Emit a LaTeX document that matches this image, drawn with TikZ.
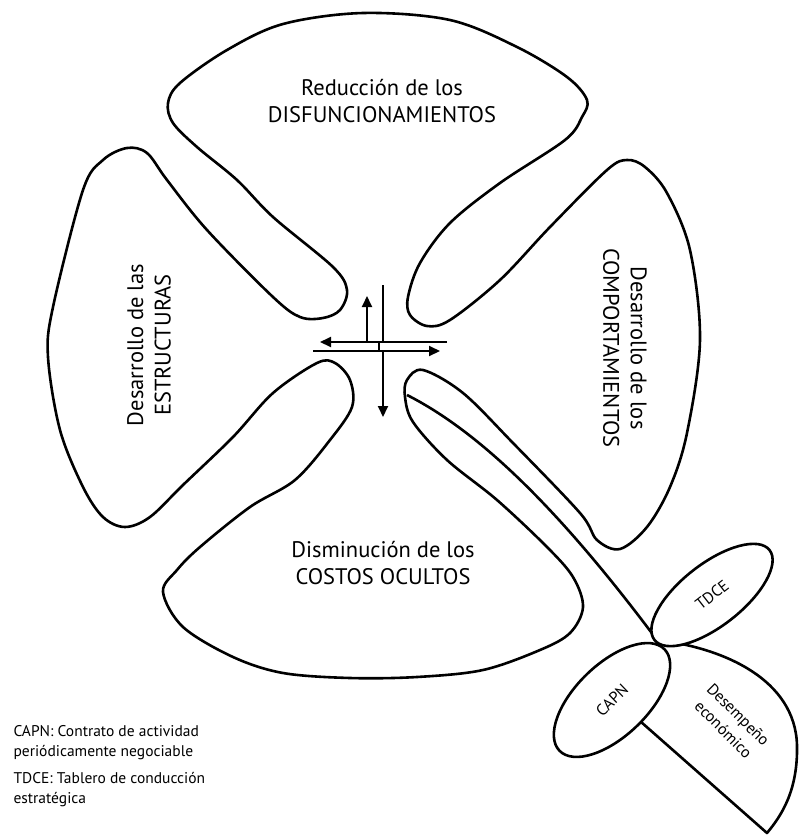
\documentclass[tikz,border=0pt]{standalone}
\usepackage{fontspec}
\setmainfont{PT Sans}
\usetikzlibrary{arrows.meta,shapes.geometric}
\begin{document}
\begin{tikzpicture}[x=1pt,y=-1pt,
  outline/.style={line width=2.6pt,line join=round},
  arr/.style={line width=2pt,-{Triangle[length=11pt,width=10pt]}},
  bar/.style={line width=2pt},
  maintext/.style={align=center,font=\fontsize{22.5}{27.5}\selectfont},
  legend/.style={anchor=west,align=left,font=\fontsize{15.5}{20}\selectfont},
  leafell/.style={ellipse,draw,line width=2.6pt,fill=white,inner sep=0pt,font=\fontsize{16}{20}\selectfont},
  small/.style={font=\fontsize{16}{21}\selectfont,align=center}]
\useasboundingbox (0,0) rectangle (801,836);

% main four-lobed outline
\draw[outline] plot[smooth cycle,tension=0.55] coordinates {
 (168,103) (180,83) (227,50) (283,24) (363,13) (450,20) (517,47) (567,77) (587,100) (582,117)
 (565,140) (500,183) (450,223) (420,263) (408,297) (410,315) (427,326) (450,320) (500,280) (550,227) (607,170)
 (627,160) (645,167) (667,193) (690,250) (700,340) (687,433) (670,487) (647,527) (620,549)
 (597,540) (580,513) (513,443) (463,393) (423,370) (407,380) (405,397) (413,422) (447,460) (497,500) (547,547) (573,577)
 (583,607) (570,633) (540,650) (483,670) (417,677) (350,678) (283,673) (233,657) (183,627) (163,592)
 (177,570) (200,547) (250,507) (295,480) (330,440) (352,407) (350,380) (335,363) (317,363) (273,393) (233,437) (183,485) (150,517)
 (125,527) (103,517) (83,487) (60,430) (48,357) (53,307) (83,190) (103,160) (127,148)
 (147,153) (167,180) (207,230) (273,297) (300,317) (323,318) (340,310) (347,290) (333,267) (273,217) (237,180) (197,147) (173,123)
};

% texts of the lobes
\node[maintext] (top) at (382,101) {Reducción de los\\DISFUNCIONAMIENTOS};
\node[maintext,rotate=90] (left) at (149,345) {Desarrollo de las\\ESTRUCTURAS};
\node[maintext,rotate=-90] (right) at (625,348) {Desarrollo de los\\COMPORTAMIENTOS};
\node[maintext] (bottom) at (383,563) {Disminución de los\\COSTOS OCULTOS};

% central arrows
\coordinate (vt) at (383,285); \coordinate (vb) at (383,342);
\coordinate (ds) at (383,352); \coordinate (de) at (383,417);
\coordinate (us) at (367,342); \coordinate (ue) at (367,296);
\coordinate (ls) at (447,342); \coordinate (le) at (320,342);
\coordinate (rs) at (313,351); \coordinate (re) at (440,351);
\coordinate (tka) at (379,342); \coordinate (tkb) at (379,351);
\draw[bar] (vt) -- (vb);
\draw[bar] (tka) -- (tkb);
\draw[arr] (ds) -- (de);
\draw[arr] (us) -- (ue);
\draw[arr] (ls) -- (le);
\draw[arr] (rs) -- (re);

% stem and leaves
\coordinate (stemstart) at (407,395);
\coordinate (junction) at (657,640);
\draw[outline] (stemstart) .. controls (480,432) and (560,510) .. (junction);
\coordinate (leafbot) at (767,833);
\coordinate (leafin) at (632,714);
\draw[outline] (junction) .. controls (725,648) and (795,680) .. (797,745)
  .. controls (798,790) and (782,815) .. (leafbot) -- (leafin);
\node[small,rotate=-45] (des) at (731,722) {Desempeño\\económico};

\node[leafell,rotate=38,minimum width=146pt,minimum height=62pt] (tdce) at (712,595) {TDCE};
\node[leafell,rotate=44,minimum width=146pt,minimum height=72pt] (capn) at (612,700) {CAPN};

% legend
\node[legend] (leg1) at (10,743) {CAPN: Contrato de actividad\\periódicamente negociable};
\node[legend] (leg2) at (10,790) {TDCE: Tablero de conducción\\estratégica};
\end{tikzpicture}
\end{document}
